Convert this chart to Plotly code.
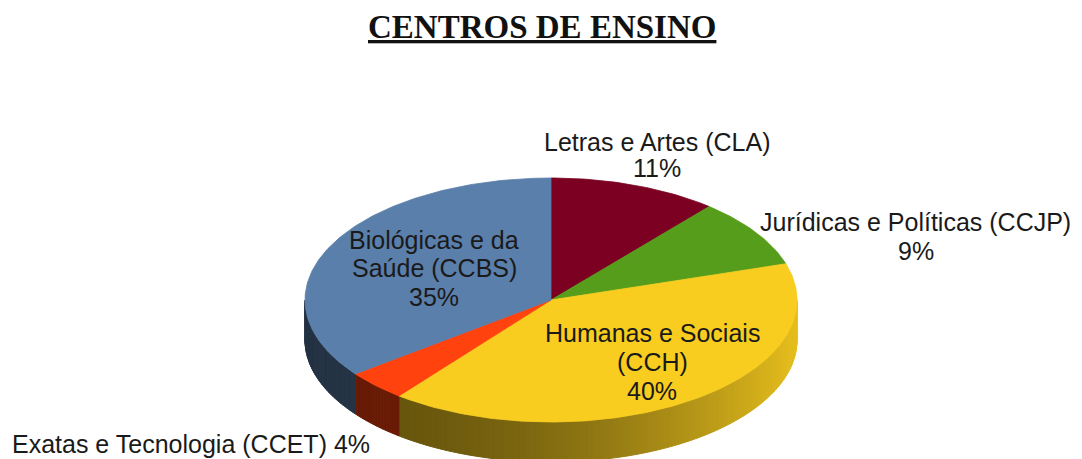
import numpy as np
import plotly.graph_objects as go

# ---------------- data ----------------
categories = ["Letras e Artes (CLA)", "Jurídicas e Políticas (CCJP)",
              "Humanas e Sociais (CCH)", "Exatas e Tecnologia (CCET)",
              "Biológicas e da Saúde (CCBS)"]
values = [11, 9, 40, 4, 35]
label_lines = [["Letras e Artes (CLA)"],
               ["Jurídicas e Políticas (CCJP)"],
               ["Humanas e Sociais", "(CCH)"],
               ["Exatas e Tecnologia (CCET)"],
               ["Biológicas e da", "Saúde (CCBS)"]]
title_text = "CENTROS DE ENSINO"

# ---------------- style ----------------
colors = ["#7b0021", "#579d1c", "#f8cd20", "#ff420e", "#5a7fab"]
W, H = 1082, 459
CX, CY, RX, RY = 551, 300, 246, 122      # pixel geometry of the tilted pie
DEPTH = 40 / RY                          # wall thickness in axis units
# label anchor positions (pixels): x, list of line-centre y's
label_pos = [(657, [142, 168]),
             (916, [222, 251]),
             (652, [333, 362, 391]),
             (191, [444]),
             (434, [240, 268, 297])]
inline_pct = [False, False, False, True, False]
FONT = "Liberation Sans, Arial, sans-serif"


def shade(hexc, f):
    r, g, b = int(hexc[1:3], 16), int(hexc[3:5], 16), int(hexc[5:7], 16)
    return "rgb(%d,%d,%d)" % (r * f, g * f, b * f)


def light(theta):
    s = np.sin(np.radians(theta))
    return 0.4 + 0.53 * ((1 + s) / 2) ** 2


fig = go.Figure()
total = sum(values)
bounds = np.concatenate([[0], np.cumsum(values) / total * 360.0])

# side walls (front half only, 90..270 deg clockwise from top)
for i, v in enumerate(values):
    a0, a1 = max(bounds[i], 90), min(bounds[i + 1], 270)
    if a1 <= a0:
        continue
    n = max(1, int(np.ceil(a1 - a0)))
    edges = np.linspace(a0, a1, n + 1)
    for t0, t1 in zip(edges[:-1], edges[1:]):
        tt = np.linspace(t0, t1, 3)
        xs = np.sin(np.radians(tt))
        ys = np.cos(np.radians(tt))
        px = np.concatenate([xs, xs[::-1], xs[:1]])
        py = np.concatenate([ys, ys[::-1] - DEPTH, ys[:1]])
        c = shade(colors[i], light((t0 + t1) / 2))
        fig.add_trace(go.Scatter(x=px, y=py, mode="lines", fill="toself",
                                 fillcolor=c, line=dict(color=c, width=1),
                                 hoverinfo="skip", showlegend=False))

# top surfaces
for i, v in enumerate(values):
    tt = np.linspace(bounds[i], bounds[i + 1], max(4, int(v * 4)))
    xs = np.concatenate([[0], np.sin(np.radians(tt)), [0]])
    ys = np.concatenate([[0], np.cos(np.radians(tt)), [0]])
    fig.add_trace(go.Scatter(x=xs, y=ys, mode="lines", fill="toself",
                             fillcolor=colors[i],
                             line=dict(color=colors[i], width=0.8),
                             name=categories[i], hoverinfo="name+text",
                             text="%d%%" % v, showlegend=False))

# labels
annotations = []
for i, v in enumerate(values):
    lines = list(label_lines[i])
    if inline_pct[i]:
        lines[-1] = lines[-1] + " %d%%" % v
    else:
        lines.append("%d%%" % v)
    x, ys = label_pos[i]
    for txt, y in zip(lines, ys):
        annotations.append(dict(text=txt, x=x / W, y=1 - y / H, xref="paper",
                                yref="paper", showarrow=False, xanchor="center",
                                yanchor="middle",
                                font=dict(family=FONT, size=25, color="#1a1a1a")))

annotations.append(dict(text="<b><u>%s</u></b>" % title_text, x=542 / W,
                        y=1 - 27 / H, xref="paper", yref="paper",
                        showarrow=False, xanchor="center", yanchor="middle",
                        font=dict(family="Liberation Serif, Times New Roman, serif",
                                  size=33, color="#111111")))

fig.update_layout(
    width=W, height=H, autosize=False,
    margin=dict(l=0, r=0, t=0, b=0),
    paper_bgcolor="white", plot_bgcolor="white",
    xaxis=dict(range=[(0 - CX) / RX, (W - CX) / RX], visible=False,
               fixedrange=True),
    yaxis=dict(range=[(CY - H) / RY, CY / RY], visible=False, fixedrange=True),
    annotations=annotations,
)

fig.write_html("out.html", config={"displayModeBar": False},
               post_script="document.body.style.margin='0';"
                           "document.body.style.overflow='hidden';")
